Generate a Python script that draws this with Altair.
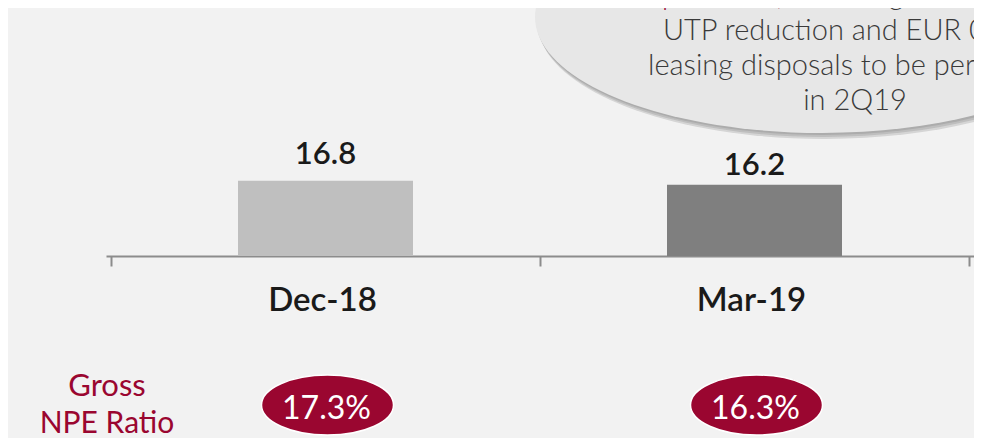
import altair as alt
import pandas as pd

# ---- data ----
categories = ["Dec-18", "Mar-19"]
values = [16.8, 16.2]
npe_ratios = ["17.3%", "16.3%"]
bar_colors = ["#bfbfbf", "#7f7f7f"]
row_label = ["Gross", "NPE Ratio"]
callout_red = "proforma,"
callout_first = "including EUR 2"
callout_lines = ["UTP reduction and EUR 0", "leasing disposals to be performed", "in 2Q19"]

RED = "#9a0630"
FONT = "Lato"
Y_MIN, Y_MAX = 5.5, 42.7


def ellipse_path(r):
    k = 0.5523
    return (f"M-1,0C-1,{-r*k:.4f},{-k:.4f},{-r:.4f},0,{-r:.4f}"
            f"C{k:.4f},{-r:.4f},1,{-r*k:.4f},1,0"
            f"C1,{r*k:.4f},{k:.4f},{r:.4f},0,{r:.4f}"
            f"C{-k:.4f},{r:.4f},-1,{r*k:.4f},-1,0Z")


df = pd.DataFrame({"cat": categories, "value": values, "npe": npe_ratios, "idx": list(range(len(categories)))})
one = pd.DataFrame({"k": [0]})

base = alt.Chart(df).transform_calculate(pos="datum.idx + 0.5")

x = alt.X("pos:Q",
          scale=alt.Scale(domain=[0, 2], nice=False, zero=False),
          axis=alt.Axis(values=[0, 1, 2], labels=False, title=None, grid=False,
                        tickSize=10, tickWidth=2, domainWidth=2,
                        domainColor="#8c8c8c", tickColor="#8c8c8c"))
y = alt.Y("value:Q", scale=alt.Scale(domain=[Y_MIN, Y_MAX], zero=False, nice=False), axis=None)

# callout ellipse with shadow
callout_path = ellipse_path(0.404)
callout_size = (2 * 287) ** 2
shadows = [
    alt.Chart(one).mark_point(shape=callout_path, size=callout_size, filled=True,
                              color="#6e6e6e", opacity=0.22, strokeWidth=0,
                              yOffset=off, xOffset=off / 2)
    .encode(x=alt.value(716), y=alt.value(9))
    for off in (2, 4, 6)
]
callout = alt.Chart(one).mark_point(shape=callout_path, size=callout_size, filled=True,
                                    color="#e7e7e7", opacity=1, strokeWidth=0).encode(
    x=alt.value(716), y=alt.value(9))

ctext_style = dict(font=FONT, fontSize=29, fontWeight=300, baseline="alphabetic")
c_red = alt.Chart(one).mark_text(text=callout_red, align="left", color=RED, **ctext_style).encode(
    x=alt.value(556), y=alt.value(-3))
c_first = alt.Chart(one).mark_text(text=callout_first, align="left", color="#3a3a3a", **ctext_style).encode(
    x=alt.value(686), y=alt.value(-3))
c_l2 = alt.Chart(one).mark_text(text=callout_lines[0], align="left", color="#3a3a3a", **ctext_style).encode(
    x=alt.value(557), y=alt.value(32))
c_l3 = alt.Chart(one).mark_text(text=callout_lines[1], align="left", color="#3a3a3a", **ctext_style).encode(
    x=alt.value(542), y=alt.value(67))
c_l4 = alt.Chart(one).mark_text(text=callout_lines[2], align="center", color="#3a3a3a", **ctext_style).encode(
    x=alt.value(749), y=alt.value(102))

bars = base.mark_bar(size=175).encode(
    x=x, y=y, y2=alt.datum(Y_MIN),
    color=alt.Color("cat:N", scale=alt.Scale(domain=categories, range=bar_colors), legend=None))

lab_style = dict(font=FONT, fontSize=31, fontWeight=600, color="#1a1a1a", baseline="alphabetic")
val1 = base.transform_filter(alt.datum.cat == categories[0]).mark_text(dy=-17, **lab_style).encode(
    x="pos:Q", y="value:Q", text=alt.Text("value:Q", format=".1f"))
val2 = base.transform_filter(alt.datum.cat == categories[1]).mark_text(dy=-10, **lab_style).encode(
    x="pos:Q", y="value:Q", text=alt.Text("value:Q", format=".1f"))

cat_labels = base.mark_text(font=FONT, fontSize=33, fontWeight=600, color="#1a1a1a",
                            baseline="alphabetic", dx=-3).encode(
    x="pos:Q", y=alt.value(303), text="cat:N")

npe_ell = base.mark_point(shape=ellipse_path(0.4545), size=132 ** 2, filled=False,
                          fill=RED, fillOpacity=1, stroke="white", strokeWidth=1.5,
                          opacity=1, xOffset=2).encode(x="pos:Q", y=alt.value(397))
npe_txt = base.mark_text(font=FONT, fontSize=32, color="white", baseline="alphabetic", dx=1).encode(
    x="pos:Q", y=alt.value(411), text="npe:N")

gross = alt.Chart(one).mark_text(text=row_label[0], font=FONT, fontSize=31, color=RED,
                                 align="center", baseline="alphabetic").encode(
    x=alt.value(1), y=alt.value(388))
npe_lab = alt.Chart(one).mark_text(text=row_label[1], font=FONT, fontSize=30, color=RED,
                                   align="center", baseline="alphabetic").encode(
    x=alt.value(1), y=alt.value(425))

chart = alt.layer(
    *shadows, callout, c_red, c_first, c_l2, c_l3, c_l4,
    bars, val1, val2, cat_labels, npe_ell, npe_txt, gross, npe_lab
).properties(
    width=868, height=248,
    autosize=alt.AutoSizeParams(type="none"),
    padding={"left": 98, "top": 0, "right": 0, "bottom": 182},
    background="#f2f2f2",
).configure_view(stroke=None)

chart.save("out.html", embed_options={"renderer": "svg", "actions": False})
